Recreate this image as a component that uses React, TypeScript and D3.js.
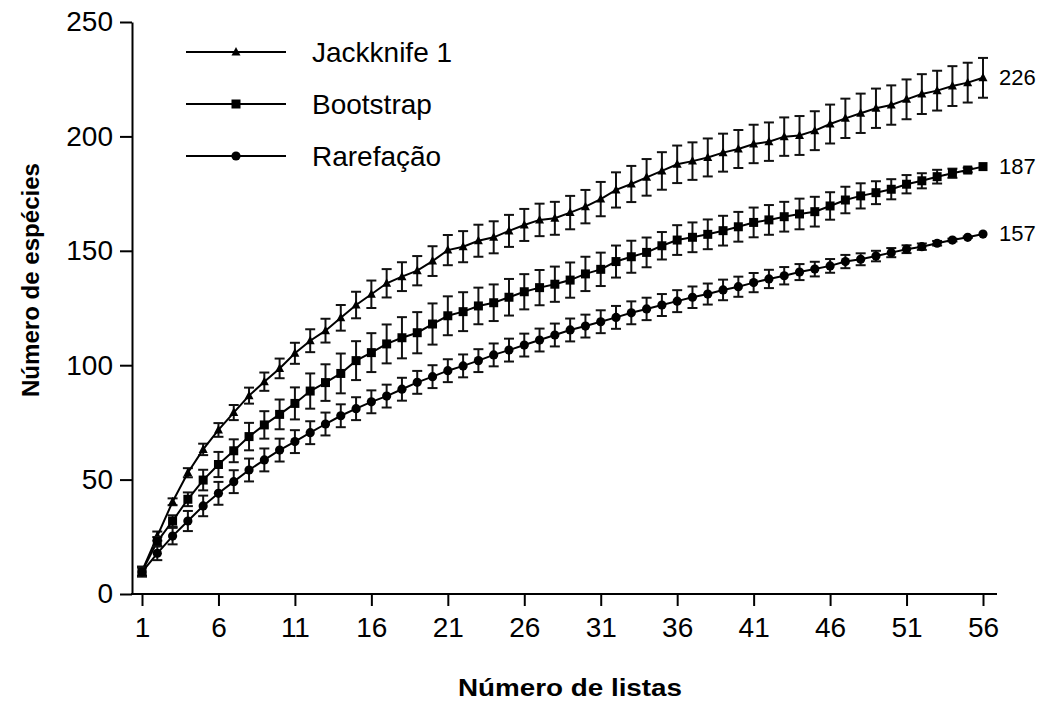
import React, { useRef, useEffect } from "react";
import * as d3 from "d3";

// sample number (1..56)
const listas = d3.range(1, 57);

const jackknife = [
  10, 25.3, 40.3, 53, 63.2, 71.7, 79.3, 86.7, 92.8, 98.6,
  105.2, 110.7, 115.1, 120.7, 126.3, 131, 135.8, 138.7, 141.3, 145.5,
  150.3, 151.8, 154.4, 155.9, 158.7, 161.3, 163.5, 164.2, 166.7, 169.3,
  172.6, 176.6, 179.2, 182.1, 184.9, 187.8, 189.2, 190.8, 192.9, 194.5,
  196.7, 197.7, 199.9, 200.4, 202.5, 205.4, 207.9, 210.1, 212.3, 213.7,
  216.2, 218.5, 220, 222, 223.5, 225.6
];
const jackknifeErr = [
  2, 2, 1.5, 2, 2.5, 3, 3.3, 3.5, 4, 4.3,
  4.6, 5, 5.2, 5.6, 5.8, 6, 6.2, 6.3, 6.4, 6.5,
  6.6, 6.8, 7, 7, 7, 7, 7.1, 7.2, 7.3, 7.3,
  7.5, 7.7, 7.9, 8, 8.2, 8.2, 8.2, 8.3, 8.3, 8.3,
  8.4, 8.4, 8.4, 8.5, 8.5, 8.5, 8.6, 8.6, 8.6, 8.6,
  8.7, 8.7, 8.7, 8.7, 8.7, 8.7
];

const bootstrap = [
  9.8, 22.9, 31.9, 41.4, 49.8, 56.6, 62.6, 68.8, 73.9, 78.5,
  83.3, 88.7, 92.4, 96.4, 102, 105.5, 109.3, 112, 114.2, 118,
  121.6, 123.4, 125.9, 127.3, 129.7, 132.1, 133.9, 135.4, 137.2, 139.9,
  141.9, 145.3, 147.4, 149.3, 152.2, 154.7, 155.9, 157.2, 158.8, 160.5,
  162.4, 163.5, 164.9, 166.1, 167.1, 169.6, 172.2, 174, 175.4, 176.9,
  179.1, 180.6, 182.4, 183.9, 185.3, 186.8
];
const bootstrapErr = [
  2, 2, 2.5, 3, 4.5, 5.5, 5, 6, 6, 6.5,
  7, 7.7, 8, 8.7, 8.5, 8.5, 8.5, 9, 9, 9,
  8.5, 8.5, 8, 8, 8, 7.7, 7.7, 7.7, 7.7, 7.5,
  7.3, 7, 7, 6.5, 6, 6.5, 6.5, 6.5, 6.5, 6.5,
  6.5, 6.5, 6.5, 6.7, 6.5, 6, 5.8, 5.5, 5, 4.4,
  4, 3.3, 3, 2, 1, 0
];

const rarefacao = [
  9.6, 17.8, 25.3, 31.9, 38.5, 44, 49.1, 54.2, 58.6, 62.9,
  66.6, 70.5, 74.3, 77.9, 81, 84, 86.5, 89.5, 92.5, 95,
  97.6, 99.7, 102, 104.5, 106.6, 108.8, 111, 113.2, 115.4, 117.1,
  119, 120.9, 122.9, 124.6, 126.3, 128, 129.7, 131.1, 132.9, 134.3,
  136.1, 137.7, 139.1, 140.7, 142, 143.4, 145.3, 146.3, 147.7, 149.2,
  150.7, 151.8, 153.3, 154.7, 155.9, 157.3
];
const rarefacaoErr = [
  2, 3, 3.6, 4.4, 4.5, 5, 5, 5, 5, 5,
  5, 5, 5, 5, 5, 5, 5, 5, 5, 5,
  5, 5, 5, 5, 5, 5, 5, 5, 5, 5,
  5, 5, 5, 4.9, 4.8, 4.8, 4.7, 4.6, 4.5, 4.4,
  4.2, 4, 3.8, 3.5, 3.2, 3, 2.9, 2.6, 2.3, 2,
  1.7, 1.4, 1, 0.6, 0.3, 0
];

const seriesNames = ["Jackknife 1", "Bootstrap", "Rarefação"];
const endLabels = ["226", "187", "157"];
const yTicks = [0, 50, 100, 150, 200, 250];
const xTicks = [1, 6, 11, 16, 21, 26, 31, 36, 41, 46, 51, 56];

const FONT = "'Liberation Sans', Arial, sans-serif";

const drawMarker = (g: any, kind: string, cx: number, cy: number) => {
  if (kind === "triangle") {
    g.append("path")
      .attr("d", `M${cx},${cy - 5}L${cx + 4.5},${cy + 3.5}L${cx - 4.5},${cy + 3.5}Z`)
      .attr("fill", "#000");
  } else if (kind === "square") {
    g.append("rect")
      .attr("x", cx - 4.5)
      .attr("y", cy - 4.5)
      .attr("width", 9)
      .attr("height", 9)
      .attr("fill", "#000");
  } else {
    g.append("circle").attr("cx", cx).attr("cy", cy).attr("r", 4.6).attr("fill", "#000");
  }
};

const App = () => {
  const node: any = useRef();

  useEffect(() => {
    const width = 1041,
      height = 702;
    const svg = d3.select(node.current).attr("width", width).attr("height", height);
    svg.selectAll("*").remove();

    const x = d3.scaleLinear().domain([1, 56]).range([142, 983]);
    const y = d3.scaleLinear().domain([0, 250]).range([594, 22]);
    const axisX = 132;

    // y axis
    const yAxis = svg
      .append("g")
      .attr("transform", `translate(${axisX},0)`)
      .call(d3.axisLeft(y).tickValues(yTicks).tickSize(12).tickSizeOuter(0).tickPadding(7));
    yAxis.select(".domain").attr("stroke-width", 2);
    yAxis.selectAll(".tick line").attr("stroke-width", 2);
    yAxis.selectAll("text").attr("font-size", 28).attr("font-family", FONT).attr("fill", "#000");

    // x axis
    const xAxis = svg
      .append("g")
      .attr("transform", `translate(0,${y(0)})`)
      .call(d3.axisBottom(x).tickValues(xTicks).tickSize(12).tickSizeOuter(0).tickPadding(11));
    xAxis.select(".domain").remove();
    xAxis.selectAll(".tick line").attr("stroke-width", 2);
    xAxis.selectAll("text").attr("font-size", 28).attr("font-family", FONT).attr("fill", "#000");
    svg
      .append("line")
      .attr("x1", axisX - 1)
      .attr("x2", 997)
      .attr("y1", y(0))
      .attr("y2", y(0))
      .attr("stroke", "#000")
      .attr("stroke-width", 2);

    // axis titles
    svg
      .append("text")
      .attr("x", 570)
      .attr("y", 696)
      .attr("text-anchor", "middle")
      .attr("font-family", FONT)
      .attr("font-weight", "bold")
      .attr("font-size", 23)
      .attr("textLength", 224)
      .attr("lengthAdjust", "spacingAndGlyphs")
      .text("Número de listas");
    svg
      .append("text")
      .attr("transform", "translate(39,280) rotate(-90)")
      .attr("text-anchor", "middle")
      .attr("font-family", FONT)
      .attr("font-weight", "bold")
      .attr("font-size", 23)
      .attr("textLength", 234)
      .attr("lengthAdjust", "spacingAndGlyphs")
      .text("Número de espécies");

    const series = [
      { values: jackknife, err: jackknifeErr, marker: "triangle" },
      { values: bootstrap, err: bootstrapErr, marker: "square" },
      { values: rarefacao, err: rarefacaoErr, marker: "circle" }
    ];

    const line = d3
      .line<number>()
      .x((_, i) => x(listas[i]))
      .y(d => y(d));

    series.forEach((s, k) => {
      const g = svg.append("g");
      // error bars
      s.values.forEach((v, i) => {
        const e = s.err[i];
        if (e <= 0) return;
        const cx = x(listas[i]);
        g.append("line")
          .attr("x1", cx)
          .attr("x2", cx)
          .attr("y1", y(v - e))
          .attr("y2", y(v + e))
          .attr("stroke", "#111")
          .attr("stroke-width", 2);
        [v - e, v + e].forEach(t =>
          g
            .append("line")
            .attr("x1", cx - 5)
            .attr("x2", cx + 5)
            .attr("y1", y(t))
            .attr("y2", y(t))
            .attr("stroke", "#111")
            .attr("stroke-width", 2)
        );
      });
      g.append("path")
        .attr("d", line(s.values))
        .attr("fill", "none")
        .attr("stroke", "#000")
        .attr("stroke-width", 2);
      s.values.forEach((v, i) => drawMarker(g, s.marker, x(listas[i]), y(v)));

      // end value label
      svg
        .append("text")
        .attr("x", x(56) + 16)
        .attr("y", y(s.values[s.values.length - 1]) + 7)
        .attr("font-family", FONT)
        .attr("font-size", 22)
        .text(endLabels[k]);

      // legend
      const ly = 52 + k * 52;
      const lg = svg.append("g");
      lg.append("line")
        .attr("x1", 186)
        .attr("x2", 286)
        .attr("y1", ly)
        .attr("y2", ly)
        .attr("stroke", "#000")
        .attr("stroke-width", 2);
      drawMarker(lg, s.marker, 236, ly);
      lg.append("text")
        .attr("x", 312)
        .attr("y", ly + 10)
        .attr("font-family", FONT)
        .attr("font-size", 28)
        .text(seriesNames[k]);
    });
  }, []);

  return (
    <div style={{ position: "absolute", left: 0, top: 0 }}>
      <svg ref={node}></svg>
    </div>
  );
};

export default App;
